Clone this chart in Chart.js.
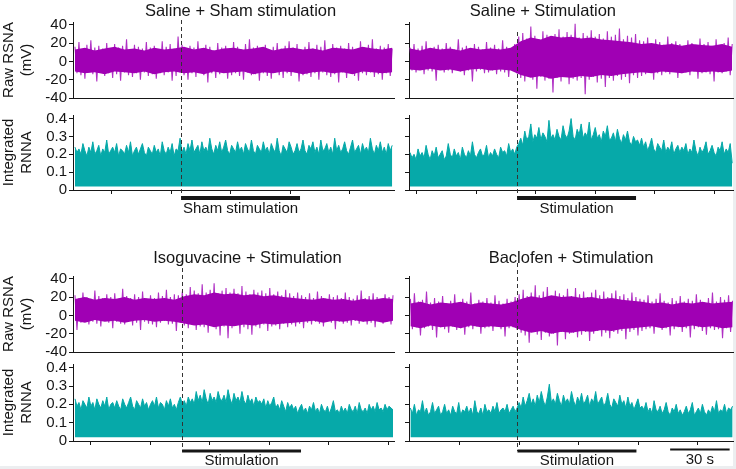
<!DOCTYPE html>
<html>
<head>
<meta charset="utf-8">
<script src="https://cdn.jsdelivr.net/npm/chart.js@4.4.1/dist/chart.umd.min.js"></script>
<style>
  html, body { margin: 0; padding: 0; background: #eceef0; }
  #fig { position: relative; width: 733px; height: 466px; background: #fff; }
  #fig canvas { position: absolute; }
</style>
</head>
<body>
<div id="fig"></div>
<script>
// Panel labels
const panelTitles = ['Saline + Sham stimulation', 'Saline + Stimulation', 'Isoguvacine + Stimulation', 'Baclofen + Stimulation'];
const stimLabels = ['Sham stimulation', 'Stimulation', 'Stimulation', 'Stimulation'];
const stimWindow = [0, 60];          // seconds from onset
const scaleBarSec = [77, 107];       // 30 s calibration bar
const scaleBarLabel = '30 s';

// Axis ticks
const rawTicks = [-40, -20, 0, 20, 40];
const intTicks = [0, 0.1, 0.2, 0.3, 0.4];
const timeTicks = [
  [-35, -5, 25, 55, 85],
  [-50.5, -20.5, 9.5, 39.5, 69.5, 99.5],
  [-46, -16, 14, 44, 74, 104],
  [-29, 1, 31, 61, 91]
];
const axisSpan = [[-54.5, 107.4], [-54.5, 108.9], [-55, 106.9], [-54.7, 108.7]];
const traceSpan = [[-53.5, 106.5], [-54, 108.5], [-54, 106.4], [-54, 108.5]];

// Raw RSNA (mV), peak / trough per sample
const rawSalineSham = [
  16,-13,21,-15,13,-19,18,-12,23,-14,15,-22,17,-11,14,-16,20,-13,12,-18,
  19,-14,15,-21,17,-12,24,-15,13,-17,18,-13,16,-20,14,-12,21,-16,15,-14,
  17,-19,13,-13,22,-15,16,-12,19,-21,14,-16,27,-12,18,-15,13,-20,17,-13,
  15,-17,22,-12,14,-15,18,-23,16,-13,12,-18,20,-14,15,-12,17,-19,14,-15,
  21,-13,16,-16,13,-20,19,-12,24,-15,15,-14,17,-21,14,-13,18,-16,12,-19,
  16,-12,20,-15,14,-18,17,-13,22,-16,15,-12,19,-22,13,-15,16,-14,21,-17,
  14,-13,18,-20,16,-12,23,-15,13,-17,19,-14,15,-23,17,-12,14,-18,20,-13,
  16,-16,13,-21,22,-13,15,-15,18,-12,24,-17,14,-14,17,-20,15,-13,19,-16,14
];
const rawSalineStim = [
  15,-10,19,-12,14,-9,17,-14,22,-10,13,-11,16,-21,18,-9,14,-12,20,-10,
  16,-13,13,-9,24,-11,15,-15,17,-10,14,-22,19,-11,16,-9,13,-13,21,-12,
  15,-10,18,-14,14,-11,23,-12,16,-17,13,-10,19,-13,
  27,-18,31,-22,25,-16,38,-20,28,-30,24,-17,33,-21,29,-19,26,-34,30,-18,
  35,-22,27,-17,32,-25,29,-19,41,-21,26,-18,31,-36,28,-20,34,-17,27,-23,
  30,-19,25,-28,33,-18,27,-21,29,-16,36,-20,24,-17,28,-24,26,-15,30,-18,23,-16,
  22,-14,26,-12,19,-20,24,-13,21,-15,18,-12,27,-14,20,-11,22,-18,19,-13,
  17,-12,23,-15,20,-11,18,-19,25,-13,19,-12,21,-14,17,-22,24,-12,18,-13,20,-11,26,-15,19
];
const rawIsoguvacine = [
  22,-16,19,-8,25,-6,20,-10,18,-7,27,-9,21,-12,19,-6,23,-8,20,-14,
  24,-7,18,-9,29,-10,21,-6,19,-11,23,-8,20,-16,26,-7,18,-9,22,-10,
  19,-13,25,-8,21,-6,28,-10,20,-9,23,-17,22,-8,
  26,-11,23,-14,31,-10,27,-16,24,-12,34,-13,25,-19,28,-11,35,-15,24,-22,
  27,-12,30,-25,25,-14,29,-11,24,-20,32,-13,26,-15,23,-21,28,-12,25,-14,
  27,-10,24,-17,30,-12,23,-11,26,-15,22,-9,28,-13,24,-10,21,-12,25,-9,22,-14,
  20,-8,24,-10,19,-7,26,-9,21,-12,18,-6,23,-8,20,-15,22,-7,19,-9,
  25,-8,20,-11,18,-6,22,-9,27,-7,19,-10,21,-8,24,-13,20,-6,18,-9,23,-7,20,-10,22
];
const rawBaclofen = [
  18,-15,24,-13,15,-22,17,-14,26,-12,14,-16,19,-24,15,-13,21,-15,13,-19,
  16,-12,23,-16,14,-14,18,-21,15,-13,25,-15,13,-12,17,-20,15,-14,19,-13,
  14,-17,22,-12,16,-15,13,-23,18,-14,15,-13,20,-16,
  23,-19,28,-22,21,-30,25,-18,33,-21,22,-27,26,-19,31,-23,20,-20,27,-33,
  24,-18,22,-26,29,-20,21,-19,30,-24,23,-21,26,-18,20,-28,25,-20,28,-17,
  22,-23,26,-19,20,-25,24,-18,27,-20,21,-17,23,-26,19,-18,25,-16,20,-22,18,-17,
  17,-15,22,-14,15,-20,18,-13,24,-16,16,-14,14,-22,19,-15,16,-13,21,-18,
  15,-14,18,-24,16,-15,23,-13,17,-17,14,-21,19,-14,25,-16,15,-15,20,-25,17,-14,22,-18,16
];

// Dense core of each raw trace (upper / lower edge, mV, every ~5 s)
const coreUpper = [
  [13,15,12,14,16,13,14,12,15,13,14,16,13,15,12,14,15,13,14,16,12,14,15,13,14,12,15,14,13,16,14,13,15],
  [14,12,15,13,14,12,15,13,14,13,15,22,26,24,28,26,27,25,26,24,23,22,21,19,20,18,19,17,19,18,17,19,16],
  [18,20,17,19,18,20,17,19,18,19,17,21,23,22,25,23,24,22,23,21,22,20,19,18,17,19,17,18,16,18,17,19,18],
  [13,15,12,14,13,15,12,14,13,12,14,18,21,19,22,20,21,19,20,18,19,17,16,15,13,14,12,14,13,15,13,14,15]
];
const coreLower = [
  [-11,-13,-12,-14,-11,-12,-13,-11,-14,-12,-11,-13,-12,-14,-11,-13,-12,-11,-14,-12,-13,-11,-12,-14,-12,-11,-13,-12,-14,-11,-12,-13,-12],
  [-9,-10,-8,-10,-9,-11,-9,-8,-10,-9,-10,-15,-18,-16,-19,-17,-18,-16,-17,-15,-16,-14,-13,-12,-13,-11,-12,-13,-11,-12,-11,-12,-10],
  [-6,-8,-5,-7,-6,-8,-6,-5,-7,-6,-7,-9,-11,-10,-13,-11,-12,-10,-11,-9,-10,-9,-8,-7,-6,-8,-6,-7,-5,-7,-6,-8,-6],
  [-12,-14,-11,-13,-12,-14,-11,-13,-12,-13,-12,-16,-19,-17,-20,-18,-19,-17,-18,-16,-17,-15,-14,-13,-12,-14,-12,-13,-11,-13,-12,-14,-13]
];

// Integrated RNNA
const intSalineSham = [
  .24,.21,.23,.20,.26,.22,.19,.24,.21,.27,.20,.22,.25,.19,.23,.21,.28,.20,.22,.24,
  .21,.26,.19,.23,.22,.20,.25,.21,.27,.19,.22,.24,.20,.23,.26,.21,.19,.24,.22,.20,
  .25,.21,.23,.19,.27,.22,.20,.24,.21,.26,.19,.23,.22,.29,
  .21,.24,.20,.26,.22,.28,.21,.23,.25,.20,.27,.22,.24,.21,.29,.23,.20,.25,.22,.27,
  .21,.24,.28,.22,.20,.25,.23,.21,.27,.22,.24,.20,.26,.23,.21,.28,.22,.20,.25,.23,
  .21,.27,.22,.24,.20,.26,.23,.21,.29,.22,.19,.25,.23,.21,.27,.24,.20,.22,.26,.21,.23,.28,
  .22,.20,.25,.23,.27,.21,.24,.20,.28,.22,.23,.26,.21,.24,.20,.29,.22,.25,.21,.23,
  .27,.22,.20,.24,.28,.21,.23,.25,.20,.26,.22,.24,.21,.29,.23,.20,.25,.22,.27,.21,.24,.20,.26,.22,.25
];
const intSalineStim = [
  .21,.18,.20,.17,.23,.19,.21,.18,.25,.20,.17,.22,.19,.24,.18,.20,.22,.17,.19,.26,
  .20,.18,.23,.19,.21,.17,.24,.20,.18,.22,.19,.27,.20,.18,.21,.23,.19,.20,.25,.18,
  .21,.19,.23,.20,.18,.24,.21,.22,.19,.26,.21,.23,.20,.24,
  .26,.29,.25,.33,.28,.30,.37,.27,.31,.29,.35,.28,.32,.30,.27,.39,.29,.31,.28,.34,
  .30,.28,.36,.31,.29,.33,.40,.30,.28,.34,.31,.37,.29,.32,.30,.38,.28,.31,.35,.29,
  .31,.27,.33,.30,.36,.28,.29,.32,.27,.34,.29,.26,.31,.28,.33,.27,.25,.30,.27,.28,.25,.29,
  .24,.27,.22,.25,.29,.23,.21,.26,.24,.22,.28,.21,.24,.22,.27,.20,.23,.25,.21,.24,
  .22,.26,.20,.23,.21,.28,.22,.19,.24,.21,.23,.27,.20,.22,.25,.21,.19,.24,.22,.27,.20,.23,.21,.26,.15
];
const intIsoguvacine = [
  .23,.19,.21,.17,.22,.20,.18,.24,.19,.21,.17,.23,.20,.18,.22,.19,.24,.17,.20,.21,
  .18,.22,.19,.17,.23,.20,.18,.21,.24,.19,.17,.22,.20,.18,.23,.19,.21,.17,.20,.22,
  .19,.24,.18,.21,.20,.17,.22,.19,.23,.18,.20,.17,.21,.24,
  .20,.22,.19,.24,.21,.23,.20,.27,.22,.25,.21,.28,.23,.20,.26,.22,.24,.21,.27,.23,
  .22,.25,.21,.28,.23,.20,.26,.22,.24,.21,.27,.22,.20,.25,.21,.23,.19,.24,.21,.22,
  .20,.23,.18,.22,.19,.21,.24,.18,.20,.17,.22,.19,.16,.21,.18,.20,.17,.19,.15,.18,.20,.16,
  .18,.15,.19,.17,.21,.16,.18,.15,.20,.17,.16,.19,.15,.18,.22,.16,.17,.15,.19,.16,
  .18,.15,.20,.17,.16,.19,.15,.21,.17,.16,.18,.15,.20,.17,.19,.16,.21,.17,.18,.16,.20,.17,.19,.18,.17
];
const intBaclofen = [
  .18,.15,.20,.14,.17,.16,.22,.15,.18,.14,.16,.21,.15,.17,.19,.14,.16,.20,.15,.17,
  .14,.19,.16,.15,.21,.14,.17,.16,.19,.15,.18,.14,.22,.16,.15,.18,.14,.20,.16,.17,
  .15,.19,.16,.21,.15,.17,.18,.16,.20,.15,.17,.19,.16,.18,
  .21,.18,.24,.19,.22,.26,.20,.23,.19,.25,.21,.27,.22,.19,.24,.31,.21,.23,.20,.26,
  .22,.19,.25,.21,.23,.20,.27,.22,.19,.24,.21,.26,.20,.22,.25,.19,.23,.21,.27,.20,
  .22,.24,.19,.21,.26,.20,.18,.23,.21,.19,.25,.20,.22,.18,.24,.19,.21,.17,.20,.23,.18,.19,
  .17,.21,.16,.18,.15,.22,.17,.16,.19,.15,.17,.21,.16,.14,.18,.16,.20,.15,.17,.14,
  .16,.19,.15,.17,.21,.14,.16,.18,.15,.20,.16,.14,.17,.15,.19,.16,.22,.15,.17,.16,.20,.15,.18,.17,.19
];
const intBase = 0.02;

const rawSeries = [rawSalineSham, rawSalineStim, rawIsoguvacine, rawBaclofen];
const intSeries = [intSalineSham, intSalineStim, intIsoguvacine, intBaclofen];

// ---- layout / style ----
const ink = '#161616';
const purple = '#a000b4';
const purpleSpike = '#b030c4';
const teal = '#06a9a9';
const FONT = '"Liberation Sans", Arial, sans-serif';
Chart.defaults.font.family = FONT;
Chart.defaults.font.size = 15;
Chart.defaults.color = ink;

const rows = [
  { rawTop: 0, rawH: 108, rawPad: [22, 10], intTop: 98, intH: 127, intPad: [17, 31], titleY: 11,
    bar: { dy: 8, h: 4, labelDy: 19 }, scale: { dy: 8, h: 2, labelDy: 19 } },
  { rawTop: 240, rawH: 122, rawPad: [36, 10], intTop: 352, intH: 117, intPad: [12, 24], titleY: 18,
    bar: { dy: 10, h: 3, labelDy: 20 }, scale: { dy: 8.5, h: 2, labelDy: 19 } }
];
const cols = [
  { left: 0, width: 398, yWidth: 73, padRight: 4, labels: true },
  { left: 396, width: 340, yWidth: 13, padRight: 3, labels: false }
];
const titleAt = [30, 13, 33, 27];
const dashFrom = [20, 32, 28, 23];

function makeCanvas(left, top, w, h) {
  const c = document.createElement('canvas');
  c.width = w; c.height = h;
  c.style.left = left + 'px'; c.style.top = top + 'px';
  c.style.width = w + 'px'; c.style.height = h + 'px';
  document.getElementById('fig').appendChild(c);
  return c;
}

function toPoints(vals, span) {
  const step = (span[1] - span[0]) / (vals.length - 1);
  return vals.map((v, i) => ({ x: span[0] + i * step, y: v }));
}

function yScale(ticks, min, max, col, title) {
  return {
    type: 'linear', min, max,
    afterBuildTicks: s => { s.ticks = ticks.map(v => ({ value: v })); },
    afterFit: s => { s.width = col.yWidth; s.paddingTop = 0; s.paddingBottom = 0; },
    grid: { drawOnChartArea: false, drawTicks: true, tickLength: 4, color: ink },
    border: { color: ink, width: 1 },
    ticks: { display: col.labels, autoSkip: false, padding: 2, color: ink, callback: v => String(v) },
    title: { display: col.labels, text: title, color: ink, font: { size: 15, lineHeight: 1.2 }, padding: { top: 0, bottom: 0 } }
  };
}

function xScale(span, ticks, marks) {
  return {
    type: 'linear', min: span[0], max: span[1], offset: false,
    afterBuildTicks: s => { s.ticks = ticks.map(v => ({ value: v })); },
    afterFit: s => { s.paddingLeft = 0; s.paddingRight = 0; },
    grid: marks
      ? { display: true, drawOnChartArea: false, drawTicks: true, tickLength: 4, color: ink }
      : { display: false, drawTicks: false },
    border: { color: ink, width: 1 },
    ticks: { display: false, autoSkip: false }
  };
}

// titles, onset line, stimulation / scale bars
const decor = {
  id: 'decor',
  afterDraw(chart, args, o) {
    const { ctx, chartArea: a, scales: { x } } = chart;
    ctx.save();
    ctx.fillStyle = ink;
    ctx.textAlign = 'center';
    ctx.textBaseline = 'middle';
    if (o.title) {
      ctx.font = '16.5px ' + FONT;
      ctx.fillText(o.title, x.getPixelForValue(o.titleAt), o.titleY);
    }
    const xo = Math.round(x.getPixelForValue(stimWindow[0])) + 0.5;
    ctx.strokeStyle = '#333';
    ctx.lineWidth = 1;
    ctx.setLineDash([4, 3]);
    ctx.beginPath();
    ctx.moveTo(xo, o.dashFrom);
    ctx.lineTo(xo, a.bottom + (o.dashExtra || 0));
    ctx.stroke();
    ctx.setLineDash([]);
    ctx.font = '15px ' + FONT;
    (o.bars || []).forEach(b => {
      const x1 = x.getPixelForValue(b.from), x2 = x.getPixelForValue(b.to);
      ctx.fillRect(x1, a.bottom + b.dy - b.h / 2, x2 - x1, b.h);
      ctx.fillText(b.label, (x1 + x2) / 2, a.bottom + b.labelDy);
    });
    ctx.restore();
  }
};

const common = {
  responsive: false, animation: false, events: [],
  plugins: { legend: { display: false }, tooltip: { enabled: false } }
};

for (let p = 0; p < 4; p++) {
  const row = rows[p >> 1], col = cols[p & 1];

  // raw nerve trace: dense core band, spikes drawn underneath so only their tips show
  new Chart(makeCanvas(col.left, row.rawTop, col.width, row.rawH), {
    type: 'line',
    data: { datasets: [
      { data: toPoints(coreUpper[p], traceSpan[p]), borderWidth: 0, pointRadius: 0, tension: 0,
        backgroundColor: purple, fill: '+1' },
      { data: toPoints(coreLower[p], traceSpan[p]), borderWidth: 0, pointRadius: 0, tension: 0,
        fill: false },
      { data: toPoints(rawSeries[p], traceSpan[p]), borderColor: purpleSpike, borderWidth: 1.1,
        pointRadius: 0, tension: 0, fill: false }
    ] },
    options: {
      ...common,
      layout: { autoPadding: false, padding: { top: row.rawPad[0], bottom: row.rawPad[1], left: 0, right: col.padRight } },
      scales: {
        x: xScale(axisSpan[p], timeTicks[p], false),
        y: yScale(rawTicks, -40, 43, col, ['Raw RSNA', '(mV)'])
      },
      plugins: { ...common.plugins,
        decor: { title: panelTitles[p], titleAt: titleAt[p], titleY: row.titleY, dashFrom: dashFrom[p] } }
    },
    plugins: [decor]
  });

  // integrated activity
  const bars = [{ from: stimWindow[0], to: stimWindow[1], label: stimLabels[p], ...row.bar }];
  if (p === 3) bars.push({ from: scaleBarSec[0], to: scaleBarSec[1], label: scaleBarLabel, ...row.scale });
  new Chart(makeCanvas(col.left, row.intTop, col.width, row.intH), {
    type: 'line',
    data: { datasets: [{
      data: toPoints(intSeries[p], traceSpan[p]),
      borderColor: teal, borderWidth: 1, backgroundColor: teal,
      pointRadius: 0, tension: 0, fill: { value: intBase }
    }] },
    options: {
      ...common,
      layout: { autoPadding: false, padding: { top: row.intPad[0], bottom: row.intPad[1], left: 0, right: col.padRight } },
      scales: {
        x: xScale(axisSpan[p], timeTicks[p], true),
        y: yScale(intTicks, 0, 0.42, col, ['Integrated', 'RNNA'])
      },
      plugins: { ...common.plugins,
        decor: { dashFrom: 0, dashExtra: row.bar.dy, bars } }
    },
    plugins: [decor]
  });
}
</script>
</body>
</html>
